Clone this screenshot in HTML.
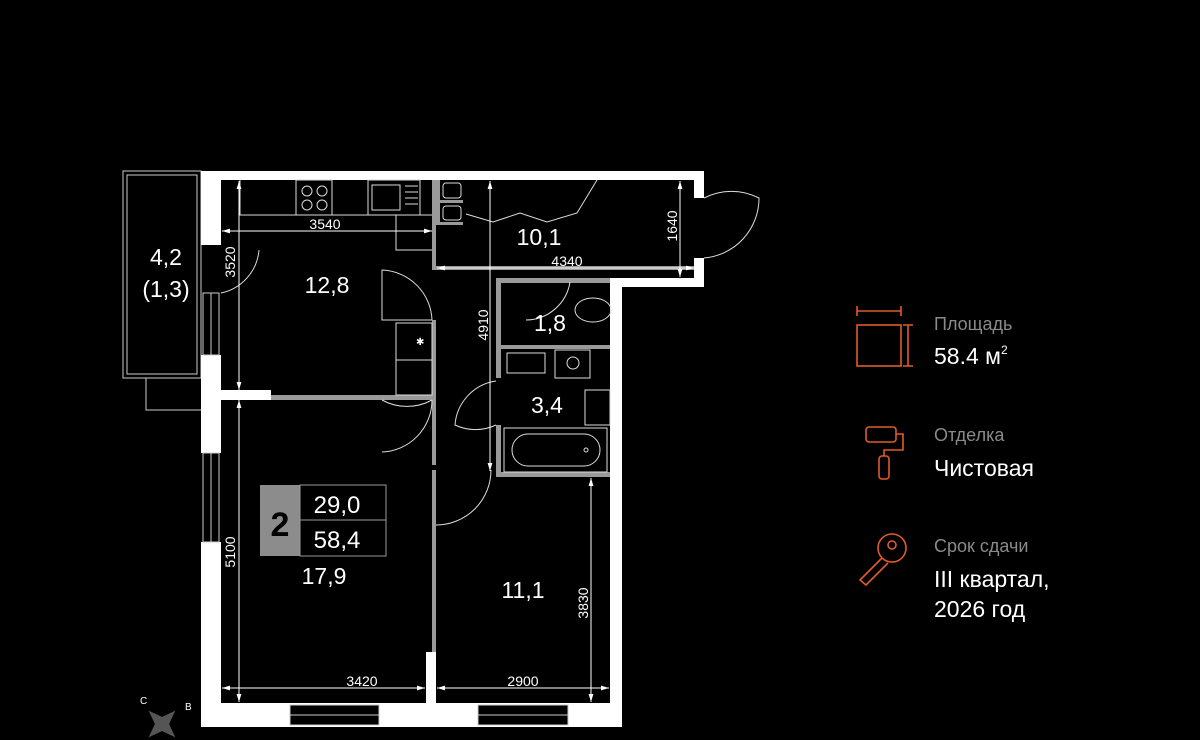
<!DOCTYPE html>
<html><head><meta charset="utf-8"><style>
html,body{margin:0;padding:0;background:#000;}
svg{display:block;}
text{font-family:"Liberation Sans","DejaVu Sans",sans-serif;}
</style></head><body>
<svg width="1200" height="740" viewBox="0 0 1200 740" xmlns="http://www.w3.org/2000/svg">
<rect width="1200" height="740" fill="#000"/>
<defs>
<marker id="a" viewBox="0 0 10 10" refX="10" refY="5" markerWidth="8" markerHeight="8" orient="auto-start-reverse"><path d="M0,2 L10,5 L0,8z" fill="#fff"/></marker>
</defs>

<!-- balcony -->
<g fill="none" stroke="#ccc" stroke-width="1">
<rect x="123" y="171" width="78" height="207"/>
<rect x="127" y="175" width="70" height="199"/>
<path d="M146 378 V410 H201"/>
</g>

<!-- outer white walls -->
<g fill="#fff">
<rect x="201" y="171" width="503" height="9"/>
<rect x="201" y="171" width="20" height="74"/>
<rect x="201" y="355" width="20" height="98"/>
<rect x="201" y="542" width="20" height="185"/>
<rect x="201" y="703" width="419" height="24"/>
<rect x="610" y="282" width="12" height="445"/>
<rect x="610" y="278" width="94" height="9"/>
<rect x="694" y="171" width="10" height="27"/>
<rect x="694" y="258" width="10" height="29"/>
<rect x="221" y="390" width="50" height="10"/>
<rect x="426" y="652" width="10" height="51"/>
</g>
<!-- windows -->
<g fill="#000" stroke="#ccc" stroke-width="1">
<rect x="203" y="293" width="16" height="62"/>
<rect x="203" y="453" width="16" height="89"/>
<rect x="290" y="705" width="89" height="20"/>
<rect x="478" y="705" width="90" height="20"/>
</g>
<g stroke="#ccc" stroke-width="1"><line x1="211" y1="293" x2="211" y2="355"/><line x1="211" y1="453" x2="211" y2="542"/><line x1="290" y1="715" x2="379" y2="715"/><line x1="478" y1="715" x2="568" y2="715"/></g>

<!-- grey interior walls -->
<g fill="#9a9a9a">
<rect x="271" y="395" width="164" height="5"/>
<rect x="432" y="180" width="4" height="88"/>
<rect x="432" y="320" width="4" height="145"/>
<rect x="432" y="470" width="4" height="182"/>
<rect x="432" y="266" width="262" height="4"/>
<rect x="496" y="278" width="114" height="5"/>
<rect x="496" y="278" width="5" height="100"/>
<rect x="496" y="425" width="5" height="50"/>
<rect x="496" y="472" width="114" height="5"/>
<rect x="501" y="345" width="109" height="4"/>
<rect x="436" y="180" width="4" height="45"/>
<rect x="436" y="200" width="27" height="3"/>
<rect x="436" y="222" width="27" height="3"/>
</g>

<!-- fixtures -->
<g fill="none" stroke="#ddd" stroke-width="1">
<rect x="443" y="183" width="18" height="15" rx="3"/>
<rect x="443" y="206" width="18" height="14" rx="3"/>
<path d="M240 180 V215 H432"/>
<rect x="296" y="180" width="36" height="35"/>
<circle cx="307" cy="191" r="5"/><circle cx="322" cy="191" r="5"/><circle cx="307" cy="205" r="5"/><circle cx="322" cy="205" r="5"/>
<rect x="368" y="180" width="52" height="35"/><rect x="372" y="185" width="28" height="25"/>
<line x1="405" y1="186" x2="418" y2="186"/><line x1="405" y1="192" x2="418" y2="192"/><line x1="405" y1="198" x2="418" y2="198"/><line x1="405" y1="204" x2="418" y2="204"/>
<path d="M396 215 V250 H432"/>
<rect x="396" y="323" width="36" height="72"/><line x1="396" y1="360" x2="432" y2="360"/>
<path d="M466 214 L493 222 L520 213 L547 222 L577 213 L597 180"/>
<path d="M221 293 A48 48 0 0 0 259 250"/>
<path d="M432 320 A52 52 0 0 0 382 270 V320 Z"/>
<path d="M432 400 A52 52 0 0 1 382 400"/>
<path d="M432 400 A52 52 0 0 1 382 452"/>
<path d="M436 525 A55 55 0 0 0 491 470"/>
<path d="M496 425 A48 48 0 0 1 455 425 A48 48 0 0 1 496 381"/>
<path d="M704 198 A60 60 0 0 1 759 198 A60 60 0 0 1 704 258"/>
<path d="M570 282 A45 45 0 0 1 526 320"/>
<ellipse cx="593" cy="310" rx="18" ry="12"/>
<rect x="507" y="353" width="38" height="20"/><rect x="555" y="350" width="35" height="28"/><circle cx="573" cy="363" r="6"/>
<rect x="585" y="390" width="25" height="35"/>
<rect x="504" y="428" width="103" height="44"/><rect x="512" y="434" width="88" height="32" rx="16"/><circle cx="586" cy="450" r="2"/>
</g>
<text x="416" y="345" fill="#fff" font-size="10">✱</text>

<!-- dimensions -->
<g stroke="#fff" stroke-width="1" fill="none">
<line x1="222" y1="231" x2="432" y2="231" marker-start="url(#a)" marker-end="url(#a)"/>
<line x1="239" y1="181" x2="239" y2="390" marker-start="url(#a)" marker-end="url(#a)"/>
<line x1="239" y1="400" x2="239" y2="702" marker-start="url(#a)" marker-end="url(#a)"/>
<line x1="437" y1="268" x2="694" y2="268" marker-start="url(#a)" marker-end="url(#a)"/>
<line x1="680" y1="181" x2="680" y2="277" marker-start="url(#a)" marker-end="url(#a)"/>
<line x1="490" y1="181" x2="490" y2="471" marker-start="url(#a)" marker-end="url(#a)"/>
<line x1="222" y1="688" x2="425" y2="688" marker-start="url(#a)" marker-end="url(#a)"/>
<line x1="437" y1="688" x2="609" y2="688" marker-start="url(#a)" marker-end="url(#a)"/>
<line x1="591" y1="478" x2="591" y2="702" marker-start="url(#a)" marker-end="url(#a)"/>
</g>
<g fill="#fff" font-size="14">
<text x="325" y="229" text-anchor="middle">3540</text>
<text x="567" y="266" text-anchor="middle">4340</text>
<text x="362" y="686" text-anchor="middle">3420</text>
<text x="523" y="686" text-anchor="middle">2900</text>
<text transform="translate(235,262) rotate(-90)" text-anchor="middle">3520</text>
<text transform="translate(677,226) rotate(-90)" text-anchor="middle">1640</text>
<text transform="translate(488,325) rotate(-90)" text-anchor="middle">4910</text>
<text transform="translate(235,552) rotate(-90)" text-anchor="middle">5100</text>
<text transform="translate(588,603) rotate(-90)" text-anchor="middle">3830</text>
</g>
<g fill="#fff" font-size="23">
<text x="166" y="265" text-anchor="middle">4,2</text>
<text x="166" y="297" text-anchor="middle">(1,3)</text>
<text x="327" y="293" text-anchor="middle">12,8</text>
<text x="539" y="245" text-anchor="middle">10,1</text>
<text x="550" y="331" text-anchor="middle">1,8</text>
<text x="547" y="413" text-anchor="middle">3,4</text>
<text x="324" y="584" text-anchor="middle">17,9</text>
<text x="523" y="598" text-anchor="middle">11,1</text>
</g>

<!-- badge -->
<rect x="260" y="485" width="40" height="71" fill="#8c8c8c"/>
<rect x="300" y="485" width="86" height="71" fill="#000" stroke="#9a9a9a" stroke-width="1"/>
<line x1="300" y1="520" x2="386" y2="520" stroke="#9a9a9a"/>
<text x="280" y="536" fill="#000" font-size="34" font-weight="bold" text-anchor="middle">2</text>
<text x="337" y="513" fill="#fff" font-size="24" text-anchor="middle">29,0</text>
<text x="337" y="548" fill="#fff" font-size="24" text-anchor="middle">58,4</text>

<!-- compass -->
<path d="M162 705 L167 719 L181 724 L167 729 L162 743 L157 729 L143 724 L157 719 Z" fill="#555" transform="rotate(-45 162 724)"/>
<text x="140" y="704" fill="#fff" font-size="10">С</text>
<text x="185" y="710" fill="#fff" font-size="10">В</text>

<!-- info panel -->
<g fill="none" stroke="#e05a2b" stroke-width="1.6">
<rect x="857" y="325" width="44" height="41"/>
<path d="M857 311 H901 M857 306 V316 M901 306 V316"/>
<path d="M908 325 V366 M903 325 H913 M903 366 H913"/>
<rect x="866" y="427" width="30" height="15" rx="3"/>
<path d="M896 434 H903 V450 H884 V456"/>
<rect x="879" y="456" width="10" height="23" rx="3"/>
<circle cx="892" cy="548" r="14"/>
<circle cx="892" cy="545" r="4"/>
<path d="M882 558 L860 580 L866 585 L888 563"/>
</g>
<g>
<text x="934" y="330" fill="#8a8a8a" font-size="18">Площадь</text>
<text x="934" y="364" fill="#fff" font-size="23">58.4 м<tspan font-size="12" dy="-10">2</tspan></text>
<text x="934" y="441" fill="#8a8a8a" font-size="18">Отделка</text>
<text x="934" y="476" fill="#fff" font-size="23">Чистовая</text>
<text x="934" y="552" fill="#8a8a8a" font-size="18">Срок сдачи</text>
<text x="934" y="587" fill="#fff" font-size="23">III квартал,</text>
<text x="934" y="617" fill="#fff" font-size="23">2026 год</text>
</g>
</svg>
</body></html>
